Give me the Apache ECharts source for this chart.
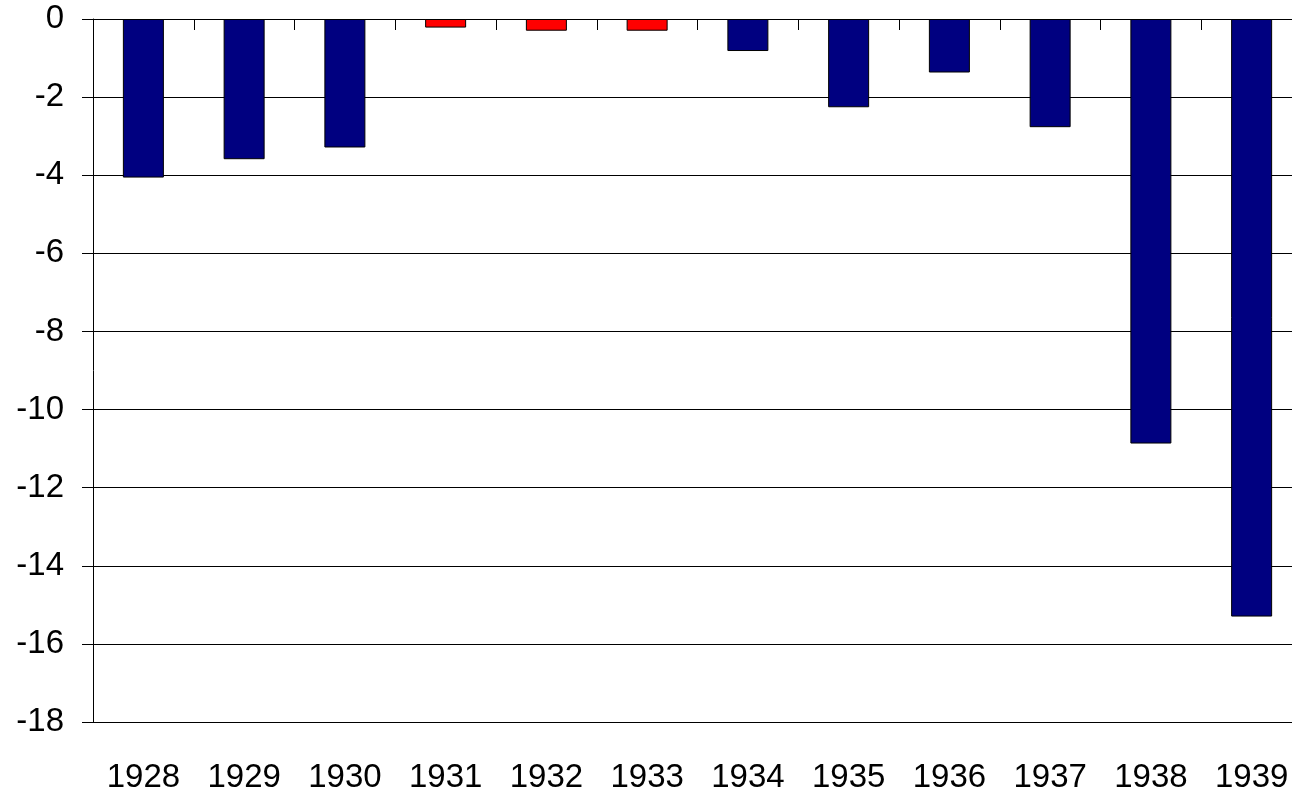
<!DOCTYPE html>
<html>
<head>
<meta charset="utf-8">
<script src="https://cdn.jsdelivr.net/npm/echarts@6/dist/echarts.min.js"></script>
<style>
  html, body { margin: 0; padding: 0; background: #fff; }
  #chart { width: 1292px; height: 794px; }
</style>
</head>
<body>
<div id="chart"></div>
<script>
// Yearly balance, 1928–1939
const years = ['1928', '1929', '1930', '1931', '1932', '1933', '1934', '1935', '1936', '1937', '1938', '1939'];
const values = [-4.06, -3.59, -3.29, -0.22, -0.3, -0.3, -0.82, -2.26, -1.37, -2.77, -10.87, -15.3];
// Years drawn in the accent colour
const accentYears = ['1931', '1932', '1933'];
const yTicks = { min: -18, max: 0, step: 2 };

const chart = echarts.init(document.getElementById('chart'), null, { renderer: 'canvas' });

const labelFont = { fontFamily: '"Liberation Sans", Arial, sans-serif', fontSize: 33, color: '#000' };

chart.setOption({
  animation: false,
  backgroundColor: '#fff',
  grid: { left: 93, top: 19, width: 1209, height: 703, containLabel: false, outerBoundsMode: 'none' },
  xAxis: [
    {
      type: 'category',
      data: years,
      position: 'top',
      boundaryGap: true,
      axisLine: { show: true, lineStyle: { color: '#000', width: 1 } },
      axisTick: { show: true, inside: true, length: 11, lineStyle: { color: '#000' } },
      axisLabel: { show: false },
      splitLine: { show: false }
    },
    {
      type: 'category',
      data: years,
      position: 'bottom',
      boundaryGap: true,
      axisLine: { show: false },
      axisTick: { show: false },
      axisLabel: Object.assign({ show: true, margin: 39, hideOverlap: false }, labelFont),
      splitLine: { show: false }
    }
  ],
  yAxis: {
    type: 'value',
    min: yTicks.min,
    max: yTicks.max,
    interval: yTicks.step,
    axisLine: { show: true, lineStyle: { color: '#000', width: 1 } },
    axisTick: { show: true, length: 11, lineStyle: { color: '#000' } },
    axisLabel: Object.assign({ margin: 29 }, labelFont),
    splitLine: { show: true, lineStyle: { color: '#000', width: 1 } }
  },
  series: [
    {
      type: 'bar',
      xAxisIndex: 0,
      data: values,
      barWidth: 41,
      itemStyle: {
        borderColor: '#000',
        borderWidth: 1,
        color: function (p) {
          return accentYears.indexOf(years[p.dataIndex]) >= 0 ? '#ff0000' : '#000080';
        }
      }
    }
  ]
});
</script>
</body>
</html>
